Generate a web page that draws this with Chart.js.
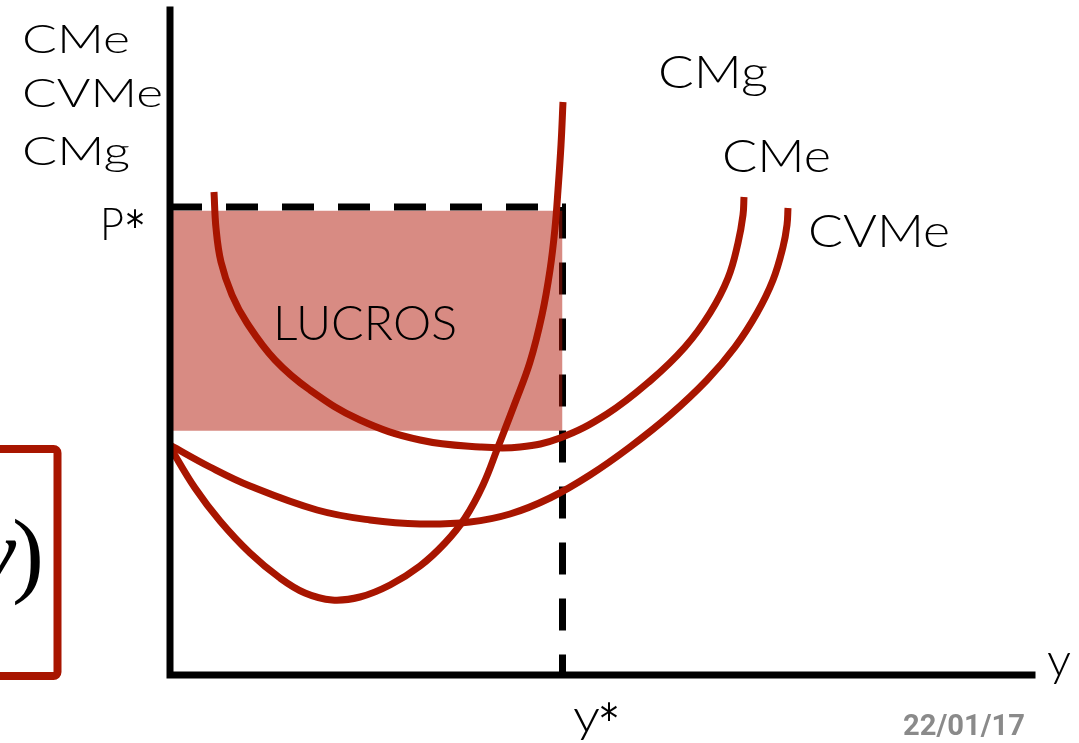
<!DOCTYPE html>
<html>
<head>
<meta charset="utf-8">
<script src="https://cdn.jsdelivr.net/npm/chart.js@4/dist/chart.umd.min.js"></script>
<style>
  html, body { margin: 0; padding: 0; background: #fff; overflow: hidden; }
  #wrap { position: relative; width: 1079px; height: 743px; }
</style>
</head>
<body>
<div id="wrap"><canvas id="custos"></canvas></div>
<script>
// cost curves; x = output y, vertical = cost / price
var cmgX  = [0, 25, 50, 80, 110, 135, 162, 190, 220, 250, 275, 295, 313, 328, 345, 360, 372, 380, 385, 388, 391, 393];
var cmgY  = [228, 187, 154, 122, 97, 82, 75, 78, 90, 109, 132, 157, 190, 228, 272, 313, 360, 405, 447, 485, 530, 573];
var cmeX  = [44, 46, 51, 62, 77, 105, 140, 190, 250, 310, 350, 390, 437, 480, 515, 540, 558, 568, 573, 574];
var cmeY  = [483, 447, 413, 380, 352, 315, 285, 255, 235, 228, 228, 237, 261, 294, 328, 362, 397, 432, 460, 478];
var cvmeX = [0, 40, 80, 147, 200, 250, 300, 340, 380, 420, 460, 500, 537, 565, 587, 603, 613, 617, 618];
var cvmeY = [230, 208, 189, 165, 155, 151, 153, 161, 177, 200, 228, 260, 295, 328, 362, 395, 428, 450, 467];
var pStar = 468;
var yStar = 392.5;
var profitTop = 464.3;
var profitBottom = 244.3;
var xMax = 862;
var yMax = 665;

var red = '#a81500';

function pts(xs, ys) {
    return xs.map(function (x, i) { return { x: x, y: ys[i] }; });
}

function fitText(ctx, text, x, y, font, width) {
    ctx.save();
    ctx.font = font;
    var w = ctx.measureText(text).width;
    ctx.translate(x, y);
    ctx.scale(width / w, 1);
    ctx.fillText(text, 0, 0);
    ctx.restore();
}

var curve = function (label, data) {
    return {
        label: label,
        data: data,
        borderColor: red,
        borderWidth: 7,
        tension: 0.4,
        pointRadius: 0,
        fill: false,
        clip: false,
        order: 0
    };
};

var chart_custos = new Chart(document.getElementById('custos'), {
    type: 'line',
    data: {
        datasets: [
            curve('CMg', pts(cmgX, cmgY)),
            curve('CMe', pts(cmeX, cmeY)),
            curve('CVMe', pts(cvmeX, cvmeY)),
            {
                label: 'LUCROS',
                data: [{ x: 0, y: profitTop }, { x: yStar, y: profitTop }],
                borderWidth: 0,
                pointRadius: 0,
                backgroundColor: 'rgba(178,24,8,0.5)',
                fill: { value: profitBottom },
                order: 1
            },
            {
                label: 'P* y*',
                data: [{ x: 0, y: pStar }, { x: yStar, y: pStar }, { x: yStar, y: 0 }],
                borderColor: '#000',
                borderWidth: 7,
                borderDash: [32, 24],
                borderCapStyle: 'butt',
                pointRadius: 0,
                fill: false,
                clip: false,
                order: 2
            }
        ]
    },
    options: {
        animation: false,
        responsive: true,
        maintainAspectRatio: false,
        layout: { padding: { left: 170, top: 10, right: 47, bottom: 68 } },
        plugins: {
            legend: { display: false },
            tooltip: { enabled: false }
        },
        scales: {
            x: { type: 'linear', min: 0, max: xMax, display: false },
            y: { type: 'linear', min: 0, max: yMax, display: false }
        }
    },
    plugins: [{
        id: 'axesAndLabels',
        afterDatasetsDraw: function (chart) {
            var ctx = chart.ctx;
            var xs = chart.scales.x, ys = chart.scales.y;
            var x0 = xs.getPixelForValue(0), y0 = ys.getPixelForValue(0);
            ctx.save();
            ctx.strokeStyle = '#000';
            ctx.lineWidth = 7;
            ctx.lineCap = 'square';
            ctx.beginPath();
            ctx.moveTo(x0, ys.getPixelForValue(yMax));
            ctx.lineTo(x0, y0);
            ctx.lineTo(xs.getPixelForValue(xMax), y0);
            ctx.stroke();
            ctx.restore();
        },
        afterDraw: function (chart) {
            var ctx = chart.ctx;
            ctx.save();
            ctx.fillStyle = '#000';
            ctx.textBaseline = 'alphabetic';
            var f = '300 40px Lato';
            var g = '300 46px Lato';
            var star = '40px "DejaVu Sans"';
            fitText(ctx, 'CMe', 22, 53, f, 108);
            fitText(ctx, 'CVMe', 22, 107, f, 141);
            fitText(ctx, 'CMg', 22, 165, f, 108);
            fitText(ctx, 'P', 100, 240, g, 24);
            fitText(ctx, '*', 126, 240, star, 18);
            fitText(ctx, 'CMg', 658, 88, g, 110);
            fitText(ctx, 'CMe', 722, 172, g, 109);
            fitText(ctx, 'CVMe', 808, 247, g, 142);
            fitText(ctx, 'LUCROS', 273, 340, '300 48px Lato', 184);
            fitText(ctx, 'y', 573, 732, g, 27);
            fitText(ctx, '*', 600, 733, star, 18);
            fitText(ctx, 'y', 1047, 676, g, 24);

            ctx.fillStyle = '#8a8a8a';
            fitText(ctx, '22/01/17', 903, 735, 'bold 29px Roboto', 122);

            // formula box cut at the left edge
            ctx.strokeStyle = red;
            ctx.lineWidth = 8;
            ctx.beginPath();
            if (ctx.roundRect) ctx.roundRect(-30, 449, 87.5, 227, 4);
            else ctx.rect(-30, 449, 87.5, 227);
            ctx.stroke();
            ctx.fillStyle = '#000';
            ctx.font = 'italic 96px "Liberation Serif"';
            ctx.textAlign = 'right';
            ctx.fillText('y', 16, 585);
            ctx.font = '96px "Liberation Serif"';
            ctx.textAlign = 'left';
            ctx.fillText(')', 12, 585);
            ctx.restore();
        }
    }]
});
</script>
</body>
</html>
